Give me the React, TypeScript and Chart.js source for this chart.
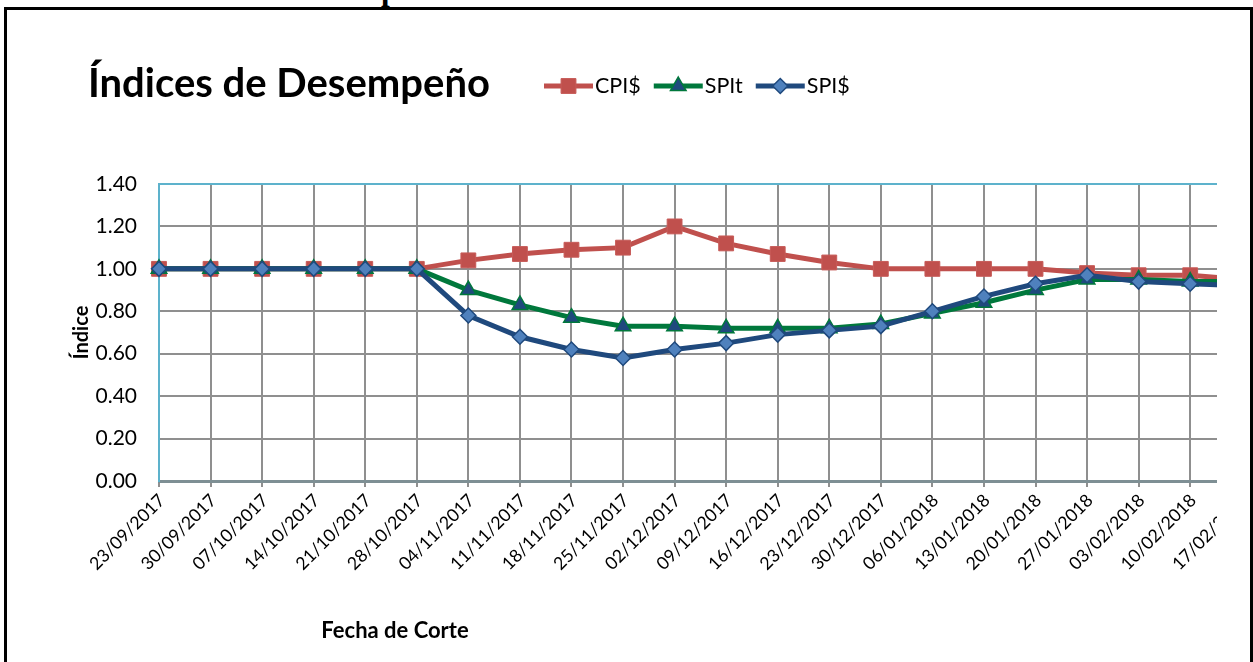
import React, { useEffect, useRef } from "react";
import { Chart, registerables } from "chart.js";

Chart.register(...registerables);

const categories = [
  "23/09/2017", "30/09/2017", "07/10/2017", "14/10/2017", "21/10/2017", "28/10/2017",
  "04/11/2017", "11/11/2017", "18/11/2017", "25/11/2017", "02/12/2017", "09/12/2017",
  "16/12/2017", "23/12/2017", "30/12/2017", "06/01/2018", "13/01/2018", "20/01/2018",
  "27/01/2018", "03/02/2018", "10/02/2018", "17/02/2018", "24/02/2018",
];
const cpiValues = [1.0, 1.0, 1.0, 1.0, 1.0, 1.0, 1.04, 1.07, 1.09, 1.1, 1.2, 1.12, 1.07, 1.03, 1.0, 1.0, 1.0, 1.0, 0.98, 0.97, 0.97, 0.95, 0.95];
const spitValues = [1.0, 1.0, 1.0, 1.0, 1.0, 1.0, 0.9, 0.83, 0.77, 0.73, 0.73, 0.72, 0.72, 0.72, 0.74, 0.79, 0.84, 0.9, 0.95, 0.95, 0.94, 0.94, 0.94];
const spiValues = [1.0, 1.0, 1.0, 1.0, 1.0, 1.0, 0.78, 0.68, 0.62, 0.58, 0.62, 0.65, 0.69, 0.71, 0.73, 0.8, 0.87, 0.93, 0.97, 0.94, 0.93, 0.92, 0.92];
const seriesNames = ["CPI$", "SPIt", "SPI$"];
const yTickValues = [0, 0.2, 0.4, 0.6, 0.8, 1.0, 1.2, 1.4];

const chartTitle = "Índices de Desempeño";
const xAxisTitle = "Fecha de Corte";
const yAxisTitle = "Índice";
const captionText = "Gráfica 4. Índices de desempeño.";

const FONT = "Lato";
const BLUE_AXIS = "#5DB2CC";
const GRID = "#8f8f8f";

function drawMarker(ctx: CanvasRenderingContext2D, style: string, x: number, y: number, r: number, fill: string, stroke: string, bw: number) {
  ctx.beginPath();
  if (style === "rect") {
    const s = Math.SQRT1_2 * r;
    ctx.rect(x - s, y - s, 2 * s, 2 * s);
  } else if (style === "triangle") {
    ctx.moveTo(x, y - r);
    ctx.lineTo(x + r * Math.sin((2 * Math.PI) / 3), y - r * Math.cos((2 * Math.PI) / 3));
    ctx.lineTo(x + r * Math.sin((4 * Math.PI) / 3), y - r * Math.cos((4 * Math.PI) / 3));
    ctx.closePath();
  } else {
    ctx.moveTo(x - r, y);
    ctx.lineTo(x, y - r);
    ctx.lineTo(x + r, y);
    ctx.lineTo(x, y + r);
    ctx.closePath();
  }
  ctx.fillStyle = fill;
  ctx.fill();
  if (bw > 0) {
    ctx.lineWidth = bw;
    ctx.strokeStyle = stroke;
    ctx.stroke();
  }
}

const decorPlugin = {
  id: "decor",
  afterDraw(chart: any) {
    const ctx: CanvasRenderingContext2D = chart.ctx;
    ctx.save();
    // main title
    ctx.fillStyle = "#000";
    ctx.textAlign = "left";
    ctx.textBaseline = "alphabetic";
    ctx.font = `bold 40px ${FONT}`;
    ctx.fillText(chartTitle, 88, 97);

    // legend
    const ly = 86;
    let x = 544;
    ctx.font = `21.5px ${FONT}`;
    chart.data.datasets.forEach((ds: any) => {
      ctx.beginPath();
      ctx.strokeStyle = ds.borderColor;
      ctx.lineWidth = ds.borderWidth;
      ctx.moveTo(x, ly);
      ctx.lineTo(x + 49, ly);
      ctx.stroke();
      drawMarker(ctx, ds.pointStyle, x + 24.5, ly, ds.pointRadius, ds.pointBackgroundColor, ds.pointBorderColor, ds.pointBorderWidth);
      ctx.fillStyle = "#000";
      ctx.textBaseline = "middle";
      ctx.fillText(ds.label, x + 51, ly);
      x = x + 51 + ctx.measureText(ds.label).width + 13;
    });

    // x axis title
    ctx.font = `bold 22px ${FONT}`;
    ctx.textAlign = "center";
    ctx.textBaseline = "middle";
    ctx.fillText(xAxisTitle, 395, 631);
    ctx.restore();
  },
};

export default function App() {
  const ref = useRef<HTMLCanvasElement>(null);
  useEffect(() => {
    const canvas = ref.current!;
    const chart = new Chart(canvas, {
      type: "line",
      data: {
        labels: categories,
        datasets: [
          {
            label: seriesNames[0],
            data: cpiValues,
            borderColor: "#C0504D",
            borderWidth: 5,
            pointStyle: "rect",
            pointRadius: 10.5,
            pointBackgroundColor: "#C0504D",
            pointBorderColor: "#C75B58",
            pointBorderWidth: 1,
            order: 3,
            clip: false,
          } as any,
          {
            label: seriesNames[1],
            data: spitValues,
            borderColor: "#00783C",
            borderWidth: 5,
            pointStyle: "triangle",
            pointRadius: 9,
            pointBackgroundColor: "#1F497D",
            pointBorderColor: "#00783C",
            pointBorderWidth: 1.5,
            order: 2,
            clip: false,
          } as any,
          {
            label: seriesNames[2],
            data: spiValues,
            borderColor: "#1F497D",
            borderWidth: 5,
            pointStyle: "rectRot",
            pointRadius: 7.5,
            pointBackgroundColor: "#4F81BD",
            pointBorderColor: "#1F497D",
            pointBorderWidth: 1.5,
            order: 1,
            clip: false,
          } as any,
        ],
      },
      options: {
        responsive: false,
        animation: false,
        events: [],
        layout: { padding: { left: 70, top: 184, right: 46.7, bottom: 0 } },
        plugins: {
          legend: { display: false },
          title: { display: false },
          tooltip: { enabled: false },
        },
        elements: { line: { tension: 0 } },
        scales: {
          x: {
            type: "category",
            offset: false,
            grid: { color: GRID, lineWidth: 2, drawTicks: true, tickLength: 6, tickColor: GRID, offset: false },
            border: { color: "#7E8F94", width: 3 },
            ticks: {
              autoSkip: false,
              minRotation: 45,
              maxRotation: 45,
              color: "#000",
              font: { family: FONT, size: 17.7 },
              padding: 3,
              labelOffset: 3,
            },
            afterFit: (s: any) => {
              s.height = 181;
            },
          },
          y: {
            min: 0,
            max: 1.4,
            afterBuildTicks: (s: any) => {
              s.ticks = yTickValues.map((v) => ({ value: v }));
            },
            grid: {
              color: (c: any) => (c.tick && Math.abs(c.tick.value - 1.4) < 1e-6 ? BLUE_AXIS : GRID),
              lineWidth: 2,
              drawTicks: false,
            },
            border: { color: BLUE_AXIS, width: 2 },
            ticks: {
              color: "#000",
              font: { family: FONT, size: 21 },
              padding: 22,
              callback: (v: any) => Number(v).toFixed(2),
            },
            title: {
              display: true,
              text: yAxisTitle,
              color: "#000",
              font: { family: FONT, size: 20, weight: "bold" },
              padding: 0,
            },
            afterFit: (s: any) => {
              s.width = 89;
            },
          },
        },
      },
      plugins: [decorPlugin],
    });
    return () => chart.destroy();
  }, []);

  return (
    <div style={{ position: "fixed", left: 0, top: 0, width: 1253, height: 662, overflow: "hidden", background: "#fff" }}>
      <div
        style={{
          position: "absolute",
          left: 11,
          top: -26.5,
          font: 'bold 31.5px "Liberation Serif"',
          lineHeight: "32px",
          whiteSpace: "nowrap",
          color: "#000",
        }}
      >
        {captionText}
      </div>
      <div
        style={{
          position: "absolute",
          left: 4,
          top: 7,
          width: 1249,
          height: 720,
          border: "3px solid #000",
          boxSizing: "border-box",
        }}
      />
      <div style={{ position: "absolute", left: 7, top: 10, width: 1210, height: 652, overflow: "hidden" }}>
        <canvas ref={ref} width={1340} height={662} style={{ position: "absolute", left: -7, top: -10, width: 1340, height: 662 }} />
      </div>
    </div>
  );
}
